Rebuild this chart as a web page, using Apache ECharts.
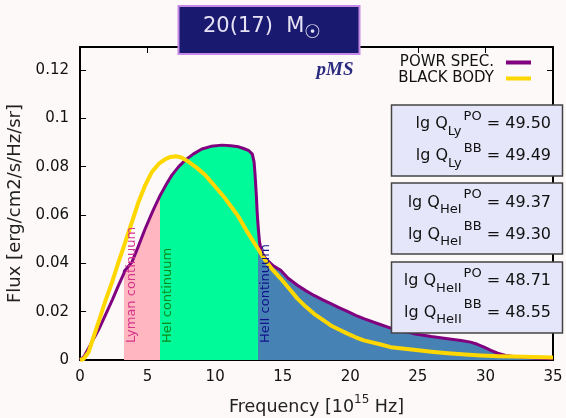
<!DOCTYPE html>
<html>
<head>
<meta charset="utf-8">
<script src="https://cdn.jsdelivr.net/npm/echarts@6/dist/echarts.min.js"></script>
<style>
  html, body { margin: 0; padding: 0; background: #fdf9f8; }
  #chart { width: 566px; height: 418px; }
</style>
</head>
<body>
<div id="chart"></div>
<script>
// PoWR model spectrum (frequency in 1e15 Hz, flux in erg/cm2/s/Hz/sr)
const powrFreq = [0.0, 0.3, 0.88, 1.4, 1.86, 2.4, 2.85, 3.1, 3.25, 3.29, 3.5, 3.84, 4.3, 4.83, 5.4, 5.94,
  6.4, 6.8, 7.3, 7.79, 8.4, 9.02, 9.7, 10.5, 11.15, 11.74, 12.1, 12.5, 12.75, 12.88, 12.95, 13.05,
  13.12, 13.2, 13.28, 13.42, 13.7, 13.87, 14.3, 14.85, 15.4, 16.09, 16.7, 17.32, 18.0, 18.56, 19.2,
  19.79, 20.4, 21.0, 22.0, 23.0, 24.0, 24.7, 26.0, 27.2, 28.2, 28.9, 29.4, 29.9, 30.4, 30.9, 31.5,
  32.1, 33.0, 34.0, 35.0];
const powrFlux = [0.0, 0.0015, 0.0074, 0.0128, 0.0184, 0.025, 0.0309, 0.034, 0.0358, 0.0368, 0.0382, 0.0405, 0.0468, 0.0544, 0.0618, 0.0682,
  0.0728, 0.0765, 0.08, 0.0827, 0.0853, 0.0873, 0.0884, 0.0889, 0.0886, 0.0882, 0.0875, 0.0866, 0.0852, 0.082, 0.077, 0.068,
  0.06, 0.054, 0.049, 0.045, 0.0422, 0.0412, 0.039, 0.0371, 0.0338, 0.0309, 0.0287, 0.0267, 0.0248, 0.0233, 0.0216,
  0.0201, 0.0185, 0.0171, 0.0151, 0.0132, 0.0118, 0.0109, 0.0097, 0.0088, 0.0081, 0.0074, 0.0065, 0.0053, 0.004, 0.0028, 0.0019,
  0.0015, 0.001, 0.0007, 0.0005];

// Black body of the same effective temperature
const bbFreq = [0.0, 0.26, 0.63, 1.0, 1.37, 1.85, 2.36, 2.85, 3.35, 3.85, 4.33, 4.8, 5.32, 5.8, 6.31, 6.7,
  7.1, 7.5, 8.04, 8.6, 9.27, 10.0, 10.75, 11.15, 11.74, 12.38, 13.0, 13.62, 14.2, 14.85, 15.5, 16.09,
  16.7, 17.32, 18.0, 18.56, 19.2, 19.79, 20.4, 21.0, 22.26, 23.0, 24.7, 26.0, 27.2, 28.5, 29.67, 31.0,
  32.1, 33.5, 35.0];
const bbFlux = [0.0, 0.0004, 0.0032, 0.0095, 0.0157, 0.024, 0.032, 0.0405, 0.0488, 0.0572, 0.0654, 0.072, 0.0778, 0.081, 0.0831, 0.084,
  0.0843, 0.0838, 0.082, 0.0797, 0.0765, 0.0718, 0.0668, 0.0637, 0.0592, 0.053, 0.0475, 0.042, 0.0377, 0.0337, 0.0294, 0.0254,
  0.0221, 0.0191, 0.0165, 0.0143, 0.0125, 0.0109, 0.0094, 0.0081, 0.0064, 0.0053, 0.0042, 0.0034, 0.0028, 0.0023, 0.0019, 0.0016,
  0.0014, 0.0012, 0.001];

// Ionisation edges (1e15 Hz) and the continua they open
const edgeFreq = [3.29, 5.94, 13.16];
const edgeNames = ['Lyman continuum', 'HeI continuum', 'HeII continuum'];
const edgeFill = ['#ffb6c1', '#00fa9a', '#4682b4'];
const edgeText = ['#d6338a', '#0c8a1a', '#10108a'];

// Ionising photon numbers
const qIons = ['Ly', 'HeI', 'HeII'];
const lgQPowr = ['49.50', '49.37', '48.71'];
const lgQBB = ['49.49', '49.30', '48.55'];

const FONT = 'DejaVu Sans';
const pair = (xs, ys) => xs.map((x, i) => [x, ys[i]]);

const chart = echarts.init(document.getElementById('chart'), null, { renderer: 'canvas' });

const frameAxis = {
  type: 'value',
  axisLine: { show: true, onZero: false, lineStyle: { color: '#000', width: 2 } },
  axisTick: { show: true, inside: true, length: 6, lineStyle: { color: '#000', width: 1 } },
  splitLine: { show: false }
};

chart.setOption({
  animation: false,
  backgroundColor: '#fdf9f8',
  grid: { left: 80, right: 13, top: 47, bottom: 58, containLabel: false, outerBoundsMode: 'none' },
  xAxis: [
    Object.assign({}, frameAxis, {
      min: 0, max: 35, interval: 5, position: 'bottom',
      axisLabel: { fontSize: 15, color: '#111', fontFamily: FONT, margin: 10 },
      name: '{a|Frequency [10}{s|15}{a| Hz]}',
      nameLocation: 'middle', nameGap: 34,
      nameTextStyle: {
        rich: {
          a: { fontSize: 17.5, fontFamily: FONT, color: '#222', lineHeight: 26, verticalAlign: 'middle' },
          s: { fontSize: 12, fontFamily: FONT, color: '#222', lineHeight: 12, verticalAlign: 'top' }
        }
      }
    }),
    Object.assign({}, frameAxis, {
      min: 0, max: 35, interval: 5, position: 'top', axisLabel: { show: false }
    })
  ],
  yAxis: [
    Object.assign({}, frameAxis, {
      min: 0, max: 0.1295, interval: 0.02, position: 'left',
      axisLabel: {
        fontSize: 15, color: '#111', fontFamily: FONT, margin: 11,
        formatter: v => (v > 0.121 ? '' : String(+v.toFixed(2)))
      },
      name: 'Flux [erg/cm2/s/Hz/sr]',
      nameLocation: 'middle', nameGap: 54,
      nameTextStyle: { fontSize: 18, fontFamily: FONT, color: '#222' }
    }),
    Object.assign({}, frameAxis, {
      min: 0, max: 0.1295, interval: 0.02, position: 'right', axisLabel: { show: false }
    })
  ],
  visualMap: {
    show: false, type: 'piecewise', dimension: 0, seriesIndex: 0,
    pieces: [
      { lt: edgeFreq[0], color: 'rgba(0,0,0,0)' },
      { gte: edgeFreq[0], lt: edgeFreq[1], color: edgeFill[0] },
      { gte: edgeFreq[1], lt: edgeFreq[2], color: edgeFill[1] },
      { gte: edgeFreq[2], color: edgeFill[2] }
    ]
  },
  legend: {
    data: ['POWR SPEC.', 'BLACK BODY'],
    orient: 'vertical', right: 35, top: 55, align: 'right', padding: 0,
    icon: 'rect', itemWidth: 25, itemHeight: 4, itemGap: 1, selectedMode: false,
    formatter: n => n + '{g| }',
    textStyle: { fontSize: 15, fontFamily: FONT, color: '#111', rich: { g: { width: 7 } } }
  },
  series: [
    {
      name: 'continua', type: 'line', data: pair(powrFreq, powrFlux),
      showSymbol: false, symbol: 'none', silent: true, z: 1,
      lineStyle: { width: 0, opacity: 0 },
      areaStyle: { opacity: 1 }
    },
    {
      name: 'POWR SPEC.', type: 'line', data: pair(powrFreq, powrFlux),
      showSymbol: false, symbol: 'none', z: 3, color: '#800080',
      lineStyle: { color: '#800080', width: 3, join: 'round' }
    },
    {
      name: 'BLACK BODY', type: 'line', data: pair(bbFreq, bbFlux),
      showSymbol: false, symbol: 'none', z: 4, color: '#ffd700',
      lineStyle: { color: '#ffd700', width: 4, join: 'round' }
    }
  ]
});

// Annotations: continuum labels at the edges, title box, model tag, photon-number boxes
const graphics = [];
edgeFreq.forEach((f, i) => {
  const p = chart.convertToPixel({ xAxisIndex: 0, yAxisIndex: 0 }, [f, 0]);
  graphics.push({
    type: 'text', x: p[0] + 1, y: p[1] - 17, rotation: Math.PI / 2, z: 5,
    style: { text: edgeNames[i], fontSize: 13, fontFamily: FONT, fill: edgeText[i], align: 'left', verticalAlign: 'top' }
  });
});

graphics.push({
  type: 'rect', shape: { x: 178.5, y: 6, width: 181, height: 48 }, z: 10,
  style: { fill: '#191970', stroke: '#c58ae6', lineWidth: 2 }
});
graphics.push({
  type: 'text', x: 203, y: 27, z: 11,
  style: {
    text: '{t|20(17)  M}{s|\u2609}', align: 'left', verticalAlign: 'middle',
    rich: {
      t: { fontSize: 21, fontFamily: FONT, fill: '#e6e2f4', lineHeight: 32, verticalAlign: 'middle' },
      s: { fontSize: 19, fontFamily: FONT, fill: '#e6e2f4', lineHeight: 14, verticalAlign: 'bottom' }
    }
  }
});
graphics.push({
  type: 'text', x: 316.5, y: 70, z: 11,
  style: {
    text: 'pMS', fontSize: 19, fontFamily: 'Liberation Serif', fontStyle: 'italic', fontWeight: 'bold',
    fill: '#2b2b80', align: 'left', verticalAlign: 'middle'
  }
});

const boxTops = [105, 183, 262];
const lineMid = [[123.8, 156], [202.5, 234.5], [281, 312.5]];
qIons.forEach((ion, i) => {
  graphics.push({
    type: 'rect', shape: { x: 391.5, y: boxTops[i], width: 171, height: 71 }, z: 10,
    style: { fill: '#e6e6fa', stroke: '#444', lineWidth: 1.5 }
  });
  [['PO', lgQPowr[i]], ['BB', lgQBB[i]]].forEach((entry, j) => {
    graphics.push({
      type: 'text', x: 551, y: lineMid[i][j], z: 11,
      style: {
        text: '{m|lg Q}{b|' + ion + '}{p|' + entry[0] + '}{m| = ' + entry[1] + '}',
        align: 'right', verticalAlign: 'middle',
        rich: {
          m: { fontSize: 16, fontFamily: FONT, fill: '#111', lineHeight: 28, verticalAlign: 'middle' },
          b: { fontSize: 13, fontFamily: FONT, fill: '#111', lineHeight: 14, verticalAlign: 'bottom' },
          p: { fontSize: 13, fontFamily: FONT, fill: '#111', lineHeight: 20.6, verticalAlign: 'top', padding: [0, 0, 0, 2] }
        }
      }
    });
  });
});

chart.setOption({ graphic: graphics });
</script>
</body>
</html>
